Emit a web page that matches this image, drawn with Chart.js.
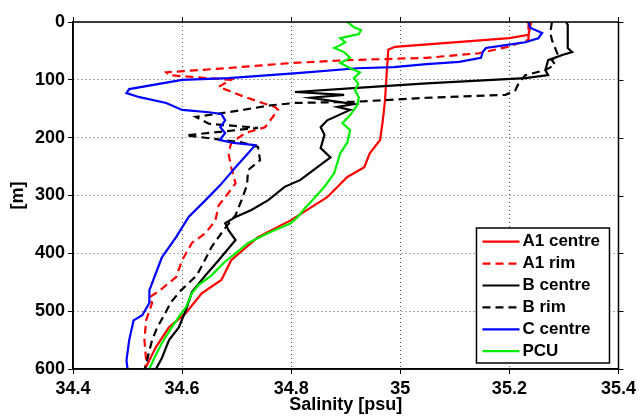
<!DOCTYPE html>
<html>
<head>
<meta charset="utf-8">
<script src="https://cdn.jsdelivr.net/npm/chart.js@4.4.0/dist/chart.umd.min.js"></script>
<style>
  html, body { margin: 0; padding: 0; background: #fff; }
</style>
</head>
<body>
<canvas id="myChart" width="640" height="416"></canvas>
<script>
// tick labels
var xTicks = [34.4, 34.6, 34.8, 35, 35.2, 35.4];
var yTicks = [0, 100, 200, 300, 400, 500, 600];

// A1 centre
var a1CentreDepth = [0, 22, 28, 43, 48, 90, 135, 170, 204, 227, 251, 268, 303, 343, 372, 412, 446, 469, 503, 528, 562, 600];
var a1CentreSal = [35.24, 35.235, 35.2, 34.99, 34.978, 34.975, 34.972, 34.968, 34.963, 34.944, 34.934, 34.903, 34.866, 34.799, 34.739, 34.69, 34.672, 34.636, 34.607, 34.576, 34.552, 34.532];

// A1 rim
var a1RimDepth = [0, 31, 43, 54, 62, 66, 71, 80, 87, 92, 100, 112, 130, 147, 152, 182, 192, 209, 227, 251, 279, 303, 317, 343, 365, 382, 412, 441, 465, 476, 486, 516, 550, 585, 600];
var a1RimSal = [35.235, 35.235, 35.197, 35.144, 35.048, 34.903, 34.799, 34.679, 34.571, 34.576, 34.69, 34.667, 34.716, 34.77, 34.776, 34.752, 34.716, 34.69, 34.685, 34.69, 34.698, 34.679, 34.667, 34.661, 34.643, 34.618, 34.6, 34.589, 34.558, 34.54, 34.545, 34.534, 34.531, 34.534, 34.532];

// B centre
var bCentreDepth = [0, 5, 45, 52, 57, 66, 83, 92, 97, 106, 114, 121, 126, 131, 142, 147, 152, 170, 182, 195, 218, 234, 251, 273, 285, 308, 325, 337, 348, 360, 377, 412, 438, 467, 498, 528, 550, 581, 600];
var bCentreSal = [35.304, 35.307, 35.307, 35.315, 35.297, 35.271, 35.266, 35.271, 35.229, 35.048, 34.921, 34.807, 34.897, 34.836, 34.915, 34.885, 34.908, 34.866, 34.854, 34.861, 34.854, 34.872, 34.848, 34.817, 34.788, 34.758, 34.727, 34.698, 34.679, 34.685, 34.698, 34.667, 34.643, 34.618, 34.607, 34.594, 34.576, 34.563, 34.552];

// B rim
var bRimDepth = [0, 19, 31, 57, 66, 74, 83, 92, 106, 118, 126, 131, 138, 140, 144, 156, 164, 176, 183, 196, 208, 216, 239, 256, 282, 308, 334, 360, 389, 415, 438, 464, 484, 507, 529, 550, 576, 600];
var bRimSal = [35.278, 35.275, 35.278, 35.289, 35.278, 35.284, 35.266, 35.229, 35.217, 35.211, 35.193, 35.048, 34.915, 34.807, 34.763, 34.685, 34.625, 34.649, 34.739, 34.607, 34.709, 34.739, 34.743, 34.721, 34.719, 34.709, 34.698, 34.676, 34.654, 34.64, 34.627, 34.598, 34.58, 34.567, 34.554, 34.545, 34.538, 34.532];

// C centre
var cCentreDepth = [0, 10, 19, 28, 35, 40, 45, 52, 62, 69, 73, 78, 80, 88, 97, 100, 116, 123, 130, 140, 152, 156, 159, 170, 182, 192, 204, 209, 213, 227, 251, 282, 308, 337, 372, 407, 434, 464, 486, 507, 516, 550, 585, 600];
var cCentreSal = [35.235, 35.238, 35.26, 35.253, 35.229, 35.193, 35.157, 35.151, 35.148, 35.108, 35.048, 34.988, 34.921, 34.817, 34.685, 34.6, 34.503, 34.498, 34.522, 34.571, 34.6, 34.649, 34.672, 34.679, 34.67, 34.679, 34.669, 34.694, 34.734, 34.721, 34.698, 34.67, 34.643, 34.612, 34.589, 34.563, 34.552, 34.54, 34.54, 34.527, 34.511, 34.503, 34.498, 34.5];

// PCU
var pcuDepth = [0, 9, 14, 21, 28, 35, 40, 45, 52, 62, 71, 80, 87, 97, 107, 118, 131, 144, 161, 175, 187, 208, 227, 261, 285, 304, 322, 337, 348, 365, 382, 400, 415, 438, 455, 469, 493, 510, 528, 555, 581, 600];
var pcuSal = [34.903, 34.915, 34.928, 34.924, 34.89, 34.899, 34.89, 34.879, 34.897, 34.908, 34.89, 34.908, 34.926, 34.915, 34.923, 34.917, 34.924, 34.921, 34.908, 34.894, 34.908, 34.903, 34.89, 34.879, 34.861, 34.843, 34.825, 34.812, 34.799, 34.758, 34.721, 34.698, 34.678, 34.654, 34.63, 34.618, 34.607, 34.594, 34.581, 34.563, 34.549, 34.54];

function pts(depth, sal) {
    var out = [];
    for (var i in depth) {
        out.push({x: sal[i], y: depth[i]});
    }
    return out;
}

function line(label, depth, sal, color, dashed, order) {
    return {
        label: label,
        data: pts(depth, sal),
        showLine: true,
        fill: false,
        tension: 0,
        pointRadius: 0,
        borderWidth: 2.2,
        borderColor: color,
        backgroundColor: color,
        borderDash: dashed ? [8, 5] : [],
        order: order
    };
}

var FONT = '"Liberation Sans", Arial, sans-serif';

// frame round the plot, outward ticks on top and right, legend box
var extras = {
    id: 'extras',
    afterDraw: function(chart) {
        var ctx = chart.ctx, a = chart.chartArea;
        var xs = chart.scales.x, ys = chart.scales.y;
        ctx.save();
        ctx.strokeStyle = '#000';
        ctx.lineWidth = 1.5;
        ctx.strokeRect(a.left, a.top, a.right - a.left, a.bottom - a.top);
        ctx.lineWidth = 1;
        ctx.beginPath();
        xTicks.forEach(function(v) {
            var px = Math.round(xs.getPixelForValue(v)) + 0.5;
            ctx.moveTo(px, a.top);
            ctx.lineTo(px, a.top - 5);
        });
        yTicks.forEach(function(v) {
            var py = Math.round(ys.getPixelForValue(v)) + 0.5;
            ctx.moveTo(a.right, py);
            ctx.lineTo(a.right + 5, py);
        });
        ctx.stroke();

        // legend
        var w = 133, h = 135;
        var x0 = a.right - 9 - w, y0 = a.bottom - 6 - h;
        ctx.fillStyle = '#fff';
        ctx.fillRect(x0, y0, w, h);
        ctx.lineWidth = 1.5;
        ctx.strokeRect(x0, y0, w, h);
        ctx.font = 'bold 17px ' + FONT;
        ctx.textBaseline = 'middle';
        chart.data.datasets.forEach(function(ds, i) {
            var y = y0 + 13.7 + i * 21.9;
            ctx.strokeStyle = ds.borderColor;
            ctx.lineWidth = ds.borderWidth;
            ctx.setLineDash(ds.borderDash);
            ctx.beginPath();
            ctx.moveTo(x0 + 6, y);
            ctx.lineTo(x0 + 43, y);
            ctx.stroke();
            ctx.setLineDash([]);
            ctx.fillStyle = '#000';
            ctx.fillText(ds.label, x0 + 46, y);
        });
        ctx.restore();
    }
};

Chart.defaults.font.family = FONT;
Chart.defaults.font.size = 18;
Chart.defaults.font.weight = 'bold';
Chart.defaults.color = '#000';

var ctx = document.getElementById('myChart');

var chart = new Chart(ctx, {
    type: 'scatter',
    data: {
        datasets: [
            line('A1 centre', a1CentreDepth, a1CentreSal, '#ff0000', false, 5),
            line('A1 rim', a1RimDepth, a1RimSal, '#ff0000', true, 4),
            line('B centre', bCentreDepth, bCentreSal, '#000000', false, 3),
            line('B rim', bRimDepth, bRimSal, '#000000', true, 2),
            line('C centre', cCentreDepth, cCentreSal, '#0000ff', false, 1),
            line('PCU', pcuDepth, pcuSal, '#00ee00', false, 0)
        ]
    },
    plugins: [extras],
    options: {
        responsive: false,
        animation: false,
        layout: { padding: { top: 22, right: 16, left: 0, bottom: 0 } },
        plugins: {
            legend: { display: false },
            tooltip: { enabled: false }
        },
        scales: {
            x: {
                type: 'linear',
                min: 34.4,
                max: 35.4,
                afterBuildTicks: function(s) { s.ticks = xTicks.map(function(v) { return {value: v}; }); },
                afterFit: function(s) { s.height = 47; },
                ticks: {
                    padding: 4,
                    maxRotation: 0,
                    callback: function(v) { return String(v); }
                },
                grid: { color: '#555', tickColor: '#000', tickLength: 5, lineWidth: 1 },
                border: { color: '#000', width: 1.5, dash: [1, 3] },
                title: { display: true, text: 'Salinity [psu]', padding: { top: 0, bottom: 0 } }
            },
            y: {
                type: 'linear',
                reverse: true,
                min: 0,
                max: 600,
                afterBuildTicks: function(s) { s.ticks = yTicks.map(function(v) { return {value: v}; }); },
                afterFit: function(s) { s.width = 73; },
                ticks: { padding: 3 },
                grid: { color: '#555', tickColor: '#000', tickLength: 5, lineWidth: 1 },
                border: { color: '#000', width: 1.5, dash: [1, 3] },
                title: { display: true, text: '[m]', padding: { top: 7, bottom: 0 } }
            }
        }
    }
});
</script>
</body>
</html>
